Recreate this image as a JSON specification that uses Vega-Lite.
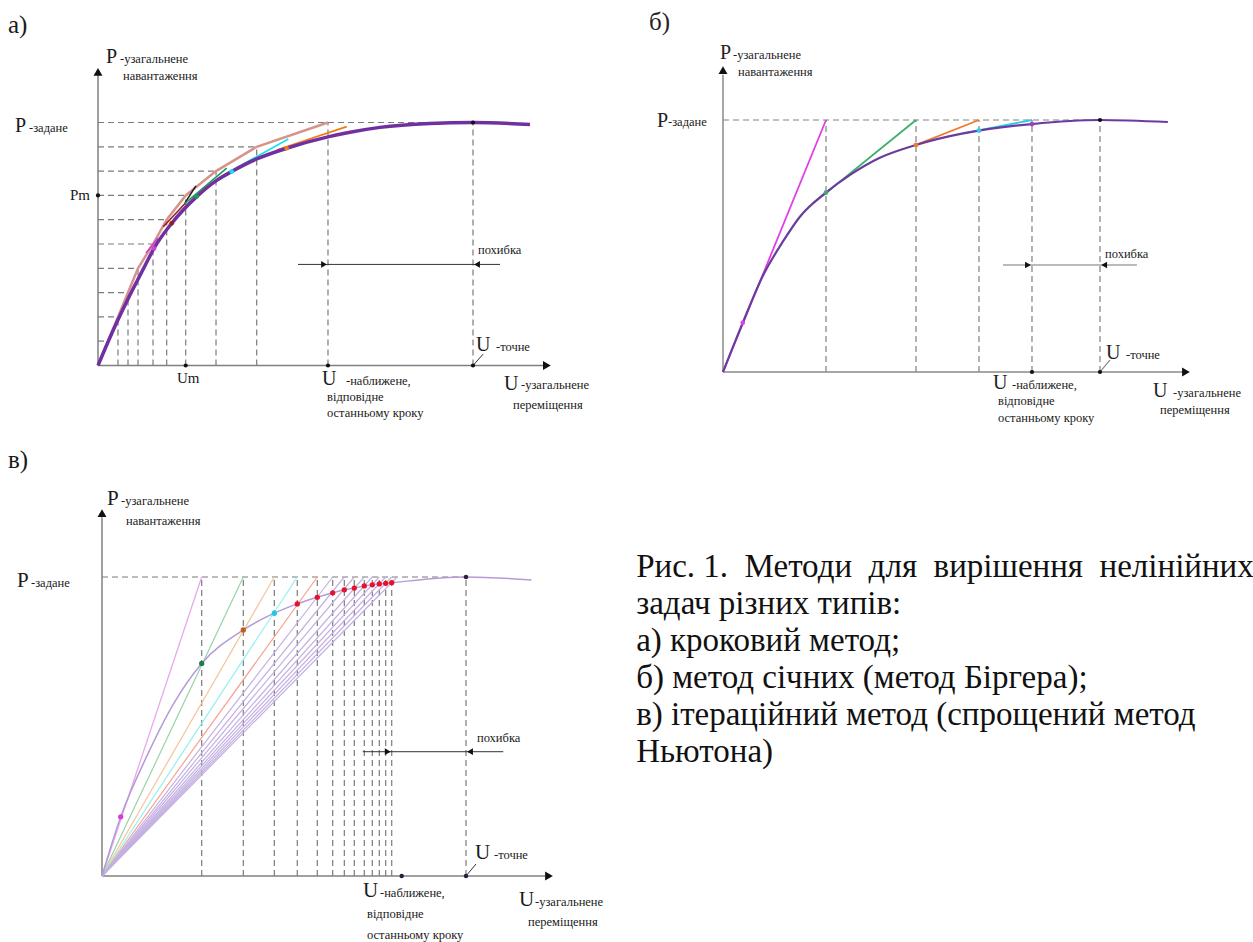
{
  "$schema": "https://vega.github.io/schema/vega-lite/v6.json",
  "padding": 0,
  "spacing": 0,
  "config": {"view": {"stroke": null}, "concat": {"spacing": 0}, "font": "Liberation Serif, DejaVu Serif, serif", "text": {"font": "Liberation Serif, DejaVu Serif, serif"}},
  "resolve": {"scale": {"x": "independent", "y": "independent", "color": "independent", "shape": "independent"}},
  "vconcat": [
    {
      "spacing": 0,
      "resolve": {"scale": {"x": "independent", "y": "independent", "color": "independent", "shape": "independent"}},
      "hconcat": [
        {
          "width": 640, "height": 440,
          "encoding": {
            "x": {"field": "u", "type": "quantitative", "scale": {"domain": [-2.6133, 14.4533], "nice": false, "zero": false}, "axis": null},
            "y": {"field": "p", "type": "quantitative", "scale": {"domain": [-3.0658, 15.0412], "nice": false, "zero": false}, "axis": null}
          },
          "layer": [
            {"data": {"values": [
              {"u":0,"p":1,"u2":0.267,"p2":1},{"u":0,"p":2,"u2":0.533,"p2":2},{"u":0,"p":3,"u2":0.8,"p2":3},{"u":0,"p":4,"u2":1.067,"p2":4},{"u":0,"p":5,"u2":1.467,"p2":5},{"u":0,"p":6,"u2":1.832,"p2":6},{"u":0,"p":7,"u2":2.339,"p2":7},{"u":0,"p":8,"u2":3.147,"p2":8},{"u":0,"p":9,"u2":4.232,"p2":9},{"u":0,"p":10,"u2":10,"p2":10},
              {"u":0.533,"p":0,"u2":0.533,"p2":2},{"u":0.8,"p":0,"u2":0.8,"p2":3},{"u":1.067,"p":0,"u2":1.067,"p2":4},{"u":1.467,"p":0,"u2":1.467,"p2":5},{"u":1.832,"p":0,"u2":1.832,"p2":6},{"u":2.339,"p":0,"u2":2.339,"p2":7},{"u":3.147,"p":0,"u2":3.147,"p2":8},{"u":4.232,"p":0,"u2":4.232,"p2":9},{"u":6.133,"p":0,"u2":6.133,"p2":10},{"u":10,"p":0,"u2":10,"p2":10}
            ]},
             "mark": {"type": "rule", "strokeDash": [6, 4], "color": "#7b7b7b", "strokeWidth": 1.2},
             "encoding": {"x2": {"field": "u2"}, "y2": {"field": "p2"}}},
            {"data": {"values": [{"u":0,"p":0,"u2":0,"p2":12.0},{"u":0,"p":0,"u2":11.9,"p2":0}]},
             "mark": {"type": "rule", "color": "#808080", "strokeWidth": 1.5},
             "encoding": {"x2": {"field": "u2"}, "y2": {"field": "p2"}}},
            {"data": {"values": [{"u":5.333,"p":4.16,"u2":10.72,"p2":4.16},{"u":10,"p":0,"u2":10.27,"p2":0.47}]},
             "mark": {"type": "rule", "color": "#333333", "strokeWidth": 1},
             "encoding": {"x2": {"field": "u2"}, "y2": {"field": "p2"}}},
            {"data": {"values": [{"u":0,"p":12.08,"d":"up"},{"u":11.97,"p":0,"d":"right"}]},
             "mark": {"type": "point", "filled": true, "size": 80, "color": "#111111", "opacity": 1},
             "encoding": {"shape": {"field": "d", "type": "nominal", "scale": {"domain": ["up", "right", "left"], "range": ["triangle-up", "triangle-right", "triangle-left"]}, "legend": null}}},
            {"data": {"values": [{"u":6.027,"p":4.16,"d":"right"},{"u":10.107,"p":4.16,"d":"left"}]},
             "mark": {"type": "point", "filled": true, "size": 45, "color": "#111111", "opacity": 1},
             "encoding": {"shape": {"field": "d", "type": "nominal", "scale": {"domain": ["up", "right", "left"], "range": ["triangle-up", "triangle-right", "triangle-left"]}, "legend": null}}},
            {"data": {"values": [{"u":0,"p":0},{"u":0.267,"p":1},{"u":0.533,"p":2},{"u":0.8,"p":3},{"u":1.067,"p":4},{"u":1.467,"p":5},{"u":1.832,"p":6},{"u":2.339,"p":7},{"u":3.147,"p":8},{"u":4.232,"p":9},{"u":6.133,"p":10}]},
             "mark": {"type": "line", "color": "#d6938b", "strokeWidth": 2.5},
             "encoding": {}},
            {"data": {"values": [
              {"u":1.28,"p":4.63,"u2":1.6,"p2":5.25,"s":"magenta"},{"u":1.741,"p":5.71,"u2":2.365,"p2":6.74,"s":"darkred"},{"u":2.32,"p":6.69,"u2":2.61,"p2":7.39,"s":"black"},{"u":2.32,"p":6.67,"u2":3.432,"p2":8.12,"s":"green"},{"u":3.432,"p":7.91,"u2":5.075,"p2":9.32,"s":"cyan"},{"u":4.765,"p":8.87,"u2":6.632,"p2":9.83,"s":"orange"}
            ]},
             "mark": {"type": "rule", "strokeWidth": 1.6},
             "encoding": {"x2": {"field": "u2"}, "y2": {"field": "p2"}, "color": {"field": "s", "type": "nominal", "scale": {"domain": ["magenta", "darkred", "black", "green", "cyan", "orange"], "range": ["#d040d0", "#9a1c1c", "#202020", "#1f9a55", "#10e0f0", "#f07818"]}, "legend": null}}},
            {"data": {"values": [{"u":0,"p":0},{"u":0.267,"p":0.97},{"u":0.533,"p":1.88},{"u":0.8,"p":2.74},{"u":1.067,"p":3.55},{"u":1.3,"p":4.25},{"u":1.493,"p":4.82},{"u":1.965,"p":5.85},{"u":2.632,"p":6.95},{"u":3.147,"p":7.6},{"u":3.565,"p":7.98},{"u":4.232,"p":8.5},{"u":5.032,"p":8.94},{"u":6.16,"p":9.42},{"u":6.72,"p":9.6},{"u":7.52,"p":9.8},{"u":8.85,"p":9.96},{"u":10,"p":10},{"u":11.52,"p":9.92}]},
             "mark": {"type": "line", "color": "#7030a0", "strokeWidth": 3.5, "interpolate": "monotone"},
             "encoding": {}},
            {"data": {"values": [{"u":1.493,"p":4.82,"s":"magenta"},{"u":1.965,"p":5.85,"s":"darkred"},{"u":2.632,"p":6.95,"s":"green"},{"u":3.565,"p":7.98,"s":"cyan"},{"u":5.032,"p":8.94,"s":"orange"}]},
             "mark": {"type": "point", "filled": true, "size": 22, "opacity": 1},
             "encoding": {"color": {"field": "s", "type": "nominal", "scale": {"domain": ["magenta", "darkred", "black", "green", "cyan", "orange"], "range": ["#d040d0", "#9a1c1c", "#202020", "#1f9a55", "#10e0f0", "#f07818"]}, "legend": null}}},
            {"data": {"values": [{"u":0,"p":7},{"u":2.339,"p":0},{"u":6.133,"p":0},{"u":10,"p":0},{"u":10,"p":10}]},
             "mark": {"type": "point", "filled": true, "size": 18, "color": "#111111", "opacity": 1},
             "encoding": {}},
            {"data": {"values": [{"u":-2.4,"p":14.01,"t":"а)"}]},
             "mark": {"type": "text", "align": "left", "baseline": "middle", "fontSize": 25, "color": "#1a1a1a"},
             "encoding": {"text": {"field": "t"}}},
            {"data": {"values": [{"u":0.213,"p":12.70,"t":"P"},{"u":-2.213,"p":9.86,"t":"P"},{"u":5.973,"p":-0.556,"t":"U"},{"u":10.08,"p":0.844,"t":"U"},{"u":10.827,"p":-0.761,"t":"U"}]},
             "mark": {"type": "text", "align": "left", "baseline": "middle", "fontSize": 20, "color": "#1a1a1a"},
             "encoding": {"text": {"field": "t"}}},
            {"data": {"values": [{"u":-0.747,"p":7.02,"t":"Pm"},{"u":2.107,"p":-0.51,"t":"Um"}]},
             "mark": {"type": "text", "align": "left", "baseline": "middle", "fontSize": 15, "color": "#1a1a1a"},
             "encoding": {"text": {"field": "t"}}},
            {"data": {"values": [
              {"u":0.587,"p":12.61,"t":"-узагальнене"},{"u":0.667,"p":11.91,"t":"навантаження"},{"u":-1.84,"p":9.77,"t":"-задане"},{"u":6.613,"p":-0.64,"t":"-наближене,"},{"u":6.107,"p":-1.296,"t":"відповідне"},{"u":6.107,"p":-1.955,"t":"останньому кроку"},{"u":10.613,"p":0.761,"t":"-точне"},{"u":11.28,"p":-0.80,"t":"-узагальнене"},{"u":11.067,"p":-1.625,"t":"переміщення"},{"u":10.133,"p":4.753,"t":"похибка"}
            ]},
             "mark": {"type": "text", "align": "left", "baseline": "middle", "fontSize": 12.5, "color": "#1a1a1a"},
             "encoding": {"text": {"field": "t"}}}
          ]
        },
        {
          "width": 613, "height": 440,
          "encoding": {
            "x": {"field": "u", "type": "quantitative", "scale": {"domain": [-2.2016, 14.0584], "nice": false, "zero": false}, "axis": null},
            "y": {"field": "p", "type": "quantitative", "scale": {"domain": [-2.6984, 14.7619], "nice": false, "zero": false}, "axis": null}
          },
          "layer": [
            {"data": {"values": [
              {"u":0,"p":10,"u2":10,"p2":10},{"u":2.732,"p":0,"u2":2.732,"p2":10},{"u":5.12,"p":0,"u2":5.12,"p2":10},{"u":6.79,"p":0,"u2":6.79,"p2":10},{"u":8.196,"p":0,"u2":8.196,"p2":10},{"u":10,"p":0,"u2":10,"p2":10}
            ]},
             "mark": {"type": "rule", "strokeDash": [6, 4], "color": "#808080", "strokeWidth": 1.2},
             "encoding": {"x2": {"field": "u2"}, "y2": {"field": "p2"}}},
            {"data": {"values": [{"u":0,"p":0,"u2":0,"p2":11.8},{"u":0,"p":0,"u2":12.2,"p2":0}]},
             "mark": {"type": "rule", "color": "#8a8a8a", "strokeWidth": 1.5},
             "encoding": {"x2": {"field": "u2"}, "y2": {"field": "p2"}}},
            {"data": {"values": [{"u":7.427,"p":4.246,"u2":10.98,"p2":4.246},{"u":10,"p":0,"u2":10.265,"p2":0.476}]},
             "mark": {"type": "rule", "color": "#777777", "strokeWidth": 1.1},
             "encoding": {"x2": {"field": "u2"}, "y2": {"field": "p2"}}},
            {"data": {"values": [{"u":0,"p":11.98,"d":"up"},{"u":12.28,"p":0,"d":"right"}]},
             "mark": {"type": "point", "filled": true, "size": 80, "color": "#111111", "opacity": 1},
             "encoding": {"shape": {"field": "d", "type": "nominal", "scale": {"domain": ["up", "right", "left"], "range": ["triangle-up", "triangle-right", "triangle-left"]}, "legend": null}}},
            {"data": {"values": [{"u":8.09,"p":4.246,"d":"right"},{"u":10.11,"p":4.246,"d":"left"}]},
             "mark": {"type": "point", "filled": true, "size": 45, "color": "#111111", "opacity": 1},
             "encoding": {"shape": {"field": "d", "type": "nominal", "scale": {"domain": ["up", "right", "left"], "range": ["triangle-up", "triangle-right", "triangle-left"]}, "legend": null}}},
            {"data": {"values": [
              {"u":0,"p":0,"u2":2.732,"p2":10,"s":"magenta"},{"u":2.39,"p":6.69,"u2":5.12,"p2":10,"s":"green"},{"u":5.12,"p":9.01,"u2":6.79,"p2":10,"s":"orange"},{"u":6.37,"p":9.47,"u2":8.196,"p2":10,"s":"cyan"}
            ]},
             "mark": {"type": "rule", "strokeWidth": 1.8},
             "encoding": {"x2": {"field": "u2"}, "y2": {"field": "p2"}, "color": {"field": "s", "type": "nominal", "scale": {"domain": ["magenta", "green", "orange", "cyan", "purple"], "range": ["#e040e8", "#3aae6a", "#f07a30", "#30c8e8", "#a040c0"]}, "legend": null}}},
            {"data": {"values": [{"u":0,"p":0},{"u":0.523,"p":1.95},{"u":1.069,"p":3.85},{"u":1.6,"p":5.2},{"u":2.04,"p":6.16},{"u":2.732,"p":7.12},{"u":3.37,"p":7.82},{"u":4.16,"p":8.5},{"u":5.12,"p":9.01},{"u":6.37,"p":9.47},{"u":6.79,"p":9.58},{"u":8.196,"p":9.84},{"u":10,"p":10},{"u":11.8,"p":9.92}]},
             "mark": {"type": "line", "color": "#6a3c9e", "strokeWidth": 2.2, "interpolate": "monotone"},
             "encoding": {}},
            {"data": {"values": [{"u":0.523,"p":1.95,"s":"magenta"},{"u":2.732,"p":7.12,"s":"green"},{"u":5.12,"p":9.01,"s":"orange"},{"u":6.79,"p":9.58,"s":"cyan"},{"u":8.196,"p":9.84,"s":"purple"}]},
             "mark": {"type": "point", "filled": true, "size": 22, "opacity": 1},
             "encoding": {"color": {"field": "s", "type": "nominal", "scale": {"domain": ["magenta", "green", "orange", "cyan", "purple"], "range": ["#e040e8", "#2e8b57", "#e06020", "#20c0e0", "#a040c0"]}, "legend": null}}},
            {"data": {"values": [{"u":8.196,"p":0},{"u":10,"p":0},{"u":10,"p":10}]},
             "mark": {"type": "point", "filled": true, "size": 18, "color": "#111111", "opacity": 1},
             "encoding": {}},
            {"data": {"values": [{"u":-1.963,"p":13.89,"t":"б)"}]},
             "mark": {"type": "text", "align": "left", "baseline": "middle", "fontSize": 25, "color": "#222222"},
             "encoding": {"text": {"field": "t"}}},
            {"data": {"values": [{"u":-0.08,"p":12.66,"t":"P"},{"u":-1.751,"p":9.96,"t":"P"},{"u":10.16,"p":0.754,"t":"U"},{"u":7.162,"p":-0.437,"t":"U"},{"u":11.406,"p":-0.754,"t":"U"}]},
             "mark": {"type": "text", "align": "left", "baseline": "middle", "fontSize": 20, "color": "#222222"},
             "encoding": {"text": {"field": "t"}}},
            {"data": {"values": [
              {"u":0.265,"p":12.58,"t":"-узагальнене"},{"u":0.398,"p":11.90,"t":"навантаження"},{"u":-1.459,"p":9.92,"t":"-задане"},{"u":10.69,"p":0.675,"t":"-точне"},{"u":7.666,"p":-0.516,"t":"-наближене,"},{"u":7.294,"p":-1.151,"t":"відповідне"},{"u":7.294,"p":-1.825,"t":"останньому кроку"},{"u":11.936,"p":-0.833,"t":"-узагальнене"},{"u":11.592,"p":-1.508,"t":"переміщення"},{"u":10.133,"p":4.683,"t":"похибка"}
            ]},
             "mark": {"type": "text", "align": "left", "baseline": "middle", "fontSize": 12.5, "color": "#222222"},
             "encoding": {"text": {"field": "t"}}}
          ]
        }
      ]
    },
    {
      "spacing": 0,
      "resolve": {"scale": {"x": "independent", "y": "independent", "color": "independent", "shape": "independent"}},
      "hconcat": [
        {
          "width": 630, "height": 502,
          "encoding": {
            "x": {"field": "u", "type": "quantitative", "scale": {"domain": [-2.8022, 14.5055], "nice": false, "zero": false}, "axis": null},
            "y": {"field": "p", "type": "quantitative", "scale": {"domain": [-2.2074, 14.5819], "nice": false, "zero": false}, "axis": null}
          },
          "layer": [
            {"data": {"values": [
              {"u":0,"p":10,"u2":10,"p2":10},
              {"u":2.739,"p":0,"u2":2.739,"p2":10},{"u":3.882,"p":0,"u2":3.882,"p2":10},{"u":4.734,"p":0,"u2":4.734,"p2":10},{"u":5.365,"p":0,"u2":5.365,"p2":10},{"u":5.915,"p":0,"u2":5.915,"p2":10},{"u":6.338,"p":0,"u2":6.338,"p2":10},{"u":6.657,"p":0,"u2":6.657,"p2":10},{"u":6.931,"p":0,"u2":6.931,"p2":10},{"u":7.206,"p":0,"u2":7.206,"p2":10},{"u":7.426,"p":0,"u2":7.426,"p2":10},{"u":7.618,"p":0,"u2":7.618,"p2":10},{"u":7.794,"p":0,"u2":7.794,"p2":10},{"u":7.959,"p":0,"u2":7.959,"p2":10},{"u":10,"p":0,"u2":10,"p2":10}
            ]},
             "mark": {"type": "rule", "strokeDash": [6, 4], "color": "#7b7b7b", "strokeWidth": 1.2},
             "encoding": {"x2": {"field": "u2"}, "y2": {"field": "p2"}}},
            {"data": {"values": [{"u":0,"p":0,"u2":0,"p2":12.0},{"u":0,"p":0,"u2":12.2,"p2":0}]},
             "mark": {"type": "rule", "color": "#808080", "strokeWidth": 1.5},
             "encoding": {"x2": {"field": "u2"}, "y2": {"field": "p2"}}},
            {"data": {"values": [{"u":7.162,"p":4.157,"u2":11.025,"p2":4.157},{"u":10,"p":0,"u2":10.275,"p2":0.401}]},
             "mark": {"type": "rule", "color": "#333333", "strokeWidth": 1},
             "encoding": {"x2": {"field": "u2"}, "y2": {"field": "p2"}}},
            {"data": {"values": [{"u":0,"p":12.14,"d":"up"},{"u":12.28,"p":0,"d":"right"}]},
             "mark": {"type": "point", "filled": true, "size": 80, "color": "#111111", "opacity": 1},
             "encoding": {"shape": {"field": "d", "type": "nominal", "scale": {"domain": ["up", "right", "left"], "range": ["triangle-up", "triangle-right", "triangle-left"]}, "legend": null}}},
            {"data": {"values": [{"u":7.85,"p":4.157,"d":"right"},{"u":10.11,"p":4.157,"d":"left"}]},
             "mark": {"type": "point", "filled": true, "size": 45, "color": "#111111", "opacity": 1},
             "encoding": {"shape": {"field": "d", "type": "nominal", "scale": {"domain": ["up", "right", "left"], "range": ["triangle-up", "triangle-right", "triangle-left"]}, "legend": null}}},
            {"data": {"values": [
              {"u":0,"p":0,"u2":2.739,"p2":10,"s":"m"},{"u":0,"p":0,"u2":3.882,"p2":10,"s":"g"},{"u":0,"p":0,"u2":4.734,"p2":10,"s":"o"},{"u":0,"p":0,"u2":5.365,"p2":10,"s":"c"},{"u":0,"p":0,"u2":5.915,"p2":10,"s":"r"},
              {"u":0,"p":0,"u2":6.338,"p2":10,"s":"v"},{"u":0,"p":0,"u2":6.657,"p2":10,"s":"v"},{"u":0,"p":0,"u2":6.931,"p2":10,"s":"v"},{"u":0,"p":0,"u2":7.206,"p2":10,"s":"v"},{"u":0,"p":0,"u2":7.426,"p2":10,"s":"v"},{"u":0,"p":0,"u2":7.618,"p2":10,"s":"v"},{"u":0,"p":0,"u2":7.794,"p2":10,"s":"v"},{"u":0,"p":0,"u2":7.959,"p2":10,"s":"v"},{"u":0,"p":0,"u2":8.11,"p2":10,"s":"v"}
            ]},
             "mark": {"type": "rule", "strokeWidth": 1.2},
             "encoding": {"x2": {"field": "u2"}, "y2": {"field": "p2"}, "color": {"field": "s", "type": "nominal", "scale": {"domain": ["m", "g", "o", "c", "r", "v", "dm", "dg", "do", "dc", "dr"], "range": ["#eaa0f0", "#98d4a4", "#f6c49c", "#90f0f0", "#f6a090", "#c4b0e2", "#d040d8", "#1e7e4a", "#c85a1a", "#20c8e8", "#e8102a"]}, "legend": null}}},
            {"data": {"values": [{"u":0,"p":0},{"u":0.514,"p":1.98},{"u":1.228,"p":4.0},{"u":1.96,"p":5.75},{"u":2.739,"p":7.11},{"u":3.882,"p":8.23},{"u":4.734,"p":8.79},{"u":5.365,"p":9.10},{"u":5.915,"p":9.32},{"u":6.338,"p":9.47},{"u":6.657,"p":9.57},{"u":6.931,"p":9.63},{"u":7.206,"p":9.70},{"u":7.426,"p":9.74},{"u":7.618,"p":9.77},{"u":7.794,"p":9.79},{"u":7.959,"p":9.81},{"u":10,"p":10},{"u":11.8,"p":9.9}]},
             "mark": {"type": "line", "color": "#b49bd8", "strokeWidth": 1.5, "interpolate": "monotone"},
             "encoding": {}},
            {"data": {"values": [{"u":0.514,"p":1.98,"s":"dm"},{"u":2.739,"p":7.11,"s":"dg"},{"u":3.882,"p":8.23,"s":"do"},{"u":4.734,"p":8.79,"s":"dc"},
              {"u":5.365,"p":9.10,"s":"dr"},{"u":5.915,"p":9.32,"s":"dr"},{"u":6.338,"p":9.47,"s":"dr"},{"u":6.657,"p":9.57,"s":"dr"},{"u":6.931,"p":9.63,"s":"dr"},{"u":7.206,"p":9.70,"s":"dr"},{"u":7.426,"p":9.74,"s":"dr"},{"u":7.618,"p":9.77,"s":"dr"},{"u":7.794,"p":9.79,"s":"dr"},{"u":7.959,"p":9.81,"s":"dr"}]},
             "mark": {"type": "point", "filled": true, "size": 28, "opacity": 1},
             "encoding": {"color": {"field": "s", "type": "nominal", "scale": {"domain": ["m", "g", "o", "c", "r", "v", "dm", "dg", "do", "dc", "dr"], "range": ["#eaa0f0", "#98d4a4", "#f6c49c", "#90f0f0", "#f6a090", "#c4b0e2", "#d040d8", "#1e7e4a", "#c85a1a", "#20c8e8", "#e8102a"]}, "legend": null}}},
            {"data": {"values": [{"u":8.234,"p":0},{"u":10,"p":0},{"u":10,"p":10}]},
             "mark": {"type": "point", "filled": true, "size": 20, "color": "#2a1f3d", "opacity": 1},
             "encoding": {}},
            {"data": {"values": [{"u":-2.582,"p":13.913,"t":"в)"}]},
             "mark": {"type": "text", "align": "left", "baseline": "middle", "fontSize": 25, "color": "#1a1a1a"},
             "encoding": {"text": {"field": "t"}}},
            {"data": {"values": [{"u":0.137,"p":12.61,"t":"P"},{"u":-2.335,"p":9.87,"t":"P"},{"u":10.247,"p":0.769,"t":"U"},{"u":7.17,"p":-0.502,"t":"U"},{"u":11.456,"p":-0.803,"t":"U"}]},
             "mark": {"type": "text", "align": "left", "baseline": "middle", "fontSize": 21, "color": "#1a1a1a"},
             "encoding": {"text": {"field": "t"}}},
            {"data": {"values": [
              {"u":0.522,"p":12.54,"t":"-узагальнене"},{"u":0.659,"p":11.87,"t":"навантаження"},{"u":-1.951,"p":9.80,"t":"-задане"},{"u":10.769,"p":0.702,"t":"-точне"},{"u":7.637,"p":-0.569,"t":"-наближене,"},{"u":7.28,"p":-1.271,"t":"відповідне"},{"u":7.28,"p":-1.973,"t":"останньому кроку"},{"u":11.896,"p":-0.87,"t":"-узагальнене"},{"u":11.703,"p":-1.538,"t":"переміщення"},{"u":10.302,"p":4.615,"t":"похибка"}
            ]},
             "mark": {"type": "text", "align": "left", "baseline": "middle", "fontSize": 12.5, "color": "#1a1a1a"},
             "encoding": {"text": {"field": "t"}}}
          ]
        },
        {
          "width": 623, "height": 502,
          "data": {"values": [
            {"n": 1, "c": 0, "t": "Рис. 1. \u00a0Методи \u00a0для \u00a0вирішення \u00a0нелінійних"},
            {"n": 2, "c": 0, "t": "задач різних типів:"},
            {"n": 3, "c": 0, "t": "а) кроковий метод;"},
            {"n": 4, "c": 0, "t": "б) метод січних (метод Біргера);"},
            {"n": 5, "c": 0, "t": "в) ітераційний метод (спрощений метод"},
            {"n": 6, "c": 0, "t": "Ньютона)"}
          ]},
          "mark": {"type": "text", "align": "left", "baseline": "middle", "fontSize": 33, "color": "#111111", "clip": true},
          "encoding": {
            "x": {"field": "c", "type": "quantitative", "scale": {"domain": [-1, 100], "nice": false, "zero": false}, "axis": null},
            "y": {"field": "n", "type": "quantitative", "scale": {"domain": [-2.432, 11.135], "reverse": true, "nice": false, "zero": false}, "axis": null},
            "text": {"field": "t"}
          }
        }
      ]
    }
  ]
}
